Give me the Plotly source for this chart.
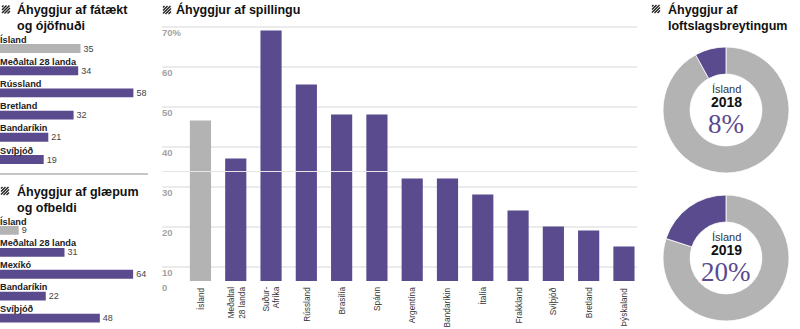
import plotly.graph_objects as go

W, H = 800, 329
PURPLE = "#5a4a8e"
GRAY = "#b3b3b3"
NARROW = "Liberation Sans, Arial, sans-serif"
SANS = "Liberation Sans, Arial, sans-serif"
SERIF = "Liberation Serif, Times New Roman, serif"

# ---------------- data ----------------
poverty_labels = ["Ísland", "Meðaltal 28 landa", "Rússland", "Bretland", "Bandaríkin", "Svíþjóð"]
poverty_values = [35, 34, 58, 32, 21, 19]

crime_labels = ["Ísland", "Meðaltal 28 landa", "Mexíkó", "Bandaríkin", "Svíþjóð"]
crime_values = [9, 31, 64, 22, 48]

corruption_labels = ["Ísland", "Meðaltal<br>28 landa", "Suður-<br>Afríka", "Rússland", "Brasilía",
                     "Spánn", "Argentína", "Bandaríkin", "Ítalía", "Frakkland", "Svíþjóð",
                     "Bretland", "Þýskaland"]
corruption_values = [46.5, 37, 69, 55.5, 48, 48, 32, 32, 28, 24, 20, 19, 15]
corruption_ticks = [0, 10, 20, 30, 40, 50, 60, 70]

climate_years = ["2018", "2019"]
climate_values = [8, 20]


def px(x):
    return x / W


def py(y):
    return 1 - y / H


def colors_for(labels):
    return [GRAY if l == "Ísland" else PURPLE for l in labels]


fig = go.Figure()

# ---------------- left top: poverty ----------------
fig.add_trace(go.Bar(
    x=poverty_values, y=poverty_labels, orientation="h", width=0.4,
    marker=dict(color=colors_for(poverty_labels), line=dict(width=0)),
    text=[str(v) for v in poverty_values], textposition="outside", constraintext="none",
    textfont=dict(family=NARROW, size=9, color="#444"), cliponaxis=False,
    xaxis="x", yaxis="y", hoverinfo="skip", showlegend=False))

# ---------------- left bottom: crime ----------------
fig.add_trace(go.Bar(
    x=crime_values, y=crime_labels, orientation="h", width=0.4,
    marker=dict(color=colors_for(crime_labels), line=dict(width=0)),
    text=[str(v) for v in crime_values], textposition="outside", constraintext="none",
    textfont=dict(family=NARROW, size=9, color="#444"), cliponaxis=False,
    xaxis="x2", yaxis="y2", hoverinfo="skip", showlegend=False))

# ---------------- middle: corruption ----------------
fig.add_trace(go.Bar(
    x=corruption_labels, y=corruption_values, width=0.6,
    marker=dict(color=colors_for(corruption_labels), line=dict(width=0)),
    xaxis="x3", yaxis="y3", hoverinfo="skip", showlegend=False))

# ---------------- donuts ----------------
donut_domains = [
    dict(x=[px(663), px(789)], y=[py(173), py(47)]),
    dict(x=[px(663), px(789)], y=[py(321), py(195)]),
]
donut_centers = [(726, 110), (726, 258)]
for year, val, dom in zip(climate_years, climate_values, donut_domains):
    fig.add_trace(go.Pie(
        values=[100 - val, val], labels=["Aðrir", "Áhyggjur"],
        marker=dict(colors=[GRAY, PURPLE], line=dict(color="white", width=0.8)),
        hole=0.57, sort=False, direction="clockwise", rotation=0,
        textinfo="none", hoverinfo="skip", showlegend=False, domain=dom))

annotations = []

# country labels on left bar charts
for lab in poverty_labels:
    annotations.append(dict(x=0, y=lab, xref="x", yref="y", text=f"<b>{lab}</b>", showarrow=False,
                            xanchor="left", yanchor="middle", yshift=9, xshift=-2,
                            font=dict(family=NARROW, size=9.2, color="#222")))
for lab in crime_labels:
    annotations.append(dict(x=0, y=lab, xref="x2", yref="y2", text=f"<b>{lab}</b>", showarrow=False,
                            xanchor="left", yanchor="middle", yshift=9, xshift=-2,
                            font=dict(family=NARROW, size=9.2, color="#222")))

# x tick labels on corruption chart (rotated, placed on the category axis)
for lab in corruption_labels:
    annotations.append(dict(x=lab, y=py(285), xref="x3", yref="paper", yanchor="top", xanchor="center",
                            text=lab, textangle=-90, showarrow=False, align="right",
                            font=dict(family=NARROW, size=8.3, color="#333")))

# y tick labels on corruption chart (below each gridline)
Y0 = 6.4
for v in corruption_ticks:
    annotations.append(dict(x=px(160), y=max(v, Y0), xref="paper", yref="y3",
                            text=f"<b>{v}%</b>" if v == 70 else f"<b>{v}</b>",
                            showarrow=False, xanchor="left", yanchor="middle", yshift=-6,
                            font=dict(family=NARROW, size=9.5, color="#a3a3a3")))

# titles
titles = [
    (15, 17.5, "Áhyggjur af fátækt<br>og ójöfnuði"),
    (15, 199, "Áhyggjur af glæpum<br>og ofbeldi"),
    (174, 10, "Áhyggjur af spillingu"),
    (666, 17.5, "Áhyggjur af<br>loftslagsbreytingum"),
]
for x, y, t in titles:
    annotations.append(dict(x=px(x), y=py(y), xref="paper", yref="paper", text=f"<b>{t}</b>",
                            showarrow=False, xanchor="left", yanchor="middle", align="left",
                            font=dict(family=NARROW, size=12.5, color="#111")))

# donut center texts
for (cx, cy), year, val in zip(donut_centers, climate_years, climate_values):
    annotations.append(dict(x=px(cx), y=py(cy - 21), xref="paper", yref="paper", text="Ísland",
                            xanchor="center", yanchor="middle",
                            showarrow=False, font=dict(family=SANS, size=11, color="#333")))
    annotations.append(dict(x=px(cx), y=py(cy - 8), xref="paper", yref="paper", text=f"<b>{year}</b>",
                            xanchor="center", yanchor="middle",
                            showarrow=False, font=dict(family=SANS, size=14, color="#111")))
    annotations.append(dict(x=px(cx), y=py(cy + 14), xref="paper", yref="paper", text=f"{val}%",
                            xanchor="center", yanchor="middle",
                            showarrow=False, font=dict(family=SERIF, size=27, color=PURPLE)))

# shapes: separator + hatch icons
shapes = [dict(type="line", xref="paper", yref="paper", x0=px(0), x1=px(148), y0=py(174), y1=py(174),
               line=dict(color="#8c8c8c", width=1))]


def hatch(x0, y0, s=8):
    out = []
    for c in [1.5, 4.5, 7.5, 10.5, 13.5]:
        xa, ya = x0 + max(0, c - s), y0 + min(s, c)
        xb, yb = x0 + min(s, c), y0 + max(0, c - s)
        out.append(dict(type="line", xref="paper", yref="paper", x0=px(xa), y0=py(ya),
                        x1=px(xb), y1=py(yb), line=dict(color="#222", width=1.4)))
    return out


for hx, hy in [(2, 5.5), (1, 187), (163, 6), (652, 5)]:
    shapes += hatch(hx, hy)

fig.update_layout(
    width=W, height=H, margin=dict(l=0, r=0, t=0, b=0),
    paper_bgcolor="white", plot_bgcolor="white",
    annotations=annotations, shapes=shapes,
    xaxis=dict(domain=[0, px(150)], range=[0, 150 / 2.30], visible=False, fixedrange=True),
    yaxis=dict(domain=[py(170.6), py(37.4)], type="category", range=[5.5, -0.5],
               visible=False, fixedrange=True),
    xaxis2=dict(domain=[0, px(150)], range=[0, 150 / 2.08], visible=False, fixedrange=True),
    yaxis2=dict(domain=[0, py(219.5)], type="category", range=[4.5, -0.5],
                visible=False, fixedrange=True),
    xaxis3=dict(domain=[px(162), px(637)], type="category", range=[-1.09, 12.37],
                showticklabels=False, ticks="", showline=True, linecolor="#e6e6e6", linewidth=1,
                showgrid=False),
    yaxis3=dict(domain=[py(281), py(18.6)], range=[Y0, 72], tickvals=[10, 20, 30, 40, 50, 60, 70],
                showticklabels=False, showgrid=True, gridcolor="#ebebeb", gridwidth=1.5,
                zeroline=False, ticks=""),
)

fig.write_html("out.html")
